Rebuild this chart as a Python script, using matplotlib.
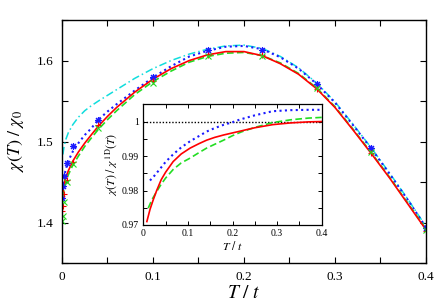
import matplotlib
matplotlib.use("Agg")
import matplotlib.pyplot as plt
from matplotlib.ticker import MultipleLocator, FuncFormatter

plt.rcParams['font.family'] = ['Liberation Serif', 'DejaVu Serif']
plt.rcParams['mathtext.fontset'] = 'stix'

# ---------------- main panel data ----------------
T_main = [0.001, 0.002, 0.004, 0.007, 0.012, 0.018, 0.025, 0.032, 0.04, 0.05, 0.06, 0.08,
          0.1, 0.12, 0.14, 0.16, 0.18, 0.2, 0.22, 0.24, 0.26, 0.28, 0.3, 0.32, 0.34,
          0.36, 0.38, 0.4]
red_main = [1.438, 1.445, 1.455, 1.464, 1.476, 1.487, 1.498, 1.508, 1.519, 1.531, 1.542, 1.561,
            1.577, 1.590, 1.600, 1.607, 1.611, 1.611, 1.606, 1.596, 1.583, 1.565, 1.542, 1.514,
            1.485, 1.455, 1.423, 1.391]
green_main = [1.432, 1.440, 1.450, 1.459, 1.471, 1.482, 1.494, 1.504, 1.515, 1.527, 1.538, 1.558,
              1.574, 1.587, 1.598, 1.605, 1.609, 1.610, 1.606, 1.597, 1.584, 1.566, 1.543, 1.515,
              1.486, 1.456, 1.424, 1.392]
blue_main = [1.448, 1.455, 1.465, 1.476, 1.488, 1.498, 1.508, 1.516, 1.527, 1.537, 1.546, 1.563,
             1.579, 1.593, 1.605, 1.612, 1.617, 1.618, 1.614, 1.604, 1.590, 1.571, 1.548, 1.520,
             1.491, 1.460, 1.428, 1.394]
cyan_main = [1.484, 1.492, 1.502, 1.511, 1.521, 1.530, 1.538, 1.544, 1.550, 1.557, 1.564, 1.578,
             1.590, 1.600, 1.608, 1.614, 1.618, 1.619, 1.615, 1.605, 1.591, 1.572, 1.549, 1.521,
             1.492, 1.461, 1.429, 1.395]

# data points (symbols)
T_pts = [0.0005, 0.001, 0.002, 0.005, 0.0125, 0.04, 0.1, 0.16, 0.22, 0.28, 0.34, 0.4]
blue_pts = [1.430, 1.445, 1.458, 1.474, 1.494, 1.527, 1.580, 1.613, 1.613, 1.571, 1.492, 1.393]
red_pts = [1.414, 1.420, 1.435, 1.452, 1.475, 1.520, 1.575, 1.607, 1.607, 1.565, 1.486, 1.390]
green_pts = [1.402, 1.408, 1.425, 1.450, 1.472, 1.517, 1.572, 1.605, 1.606, 1.566, 1.487, 1.391]

# ---------------- inset data ----------------
T_in_red = [0.008, 0.015, 0.022, 0.03, 0.04, 0.05, 0.067, 0.085, 0.105, 0.125, 0.142, 0.16,
            0.18, 0.2, 0.22, 0.25, 0.29, 0.33, 0.37, 0.4]
red_in = [0.9710, 0.9745, 0.9772, 0.9800, 0.9831, 0.9853, 0.9884, 0.9906, 0.9923, 0.9936,
          0.9946, 0.9954, 0.9961, 0.9967, 0.9973, 0.9982, 0.9991, 0.9996, 0.9999, 1.0000]
T_in_green = [0.011, 0.02, 0.03, 0.04, 0.05, 0.067, 0.085, 0.105, 0.125, 0.142, 0.16, 0.18,
              0.2, 0.22, 0.25, 0.29, 0.33, 0.37, 0.4]
green_in = [0.9749, 0.9775, 0.9797, 0.9818, 0.9836, 0.9861, 0.9880, 0.9894, 0.9910, 0.9923,
            0.9934, 0.9946, 0.9959, 0.9970, 0.9983, 0.9997, 1.0005, 1.0010, 1.0012]
T_in_blue = [0.015, 0.025, 0.037, 0.05, 0.067, 0.085, 0.105, 0.125, 0.142, 0.16, 0.179, 0.2,
             0.217, 0.25, 0.29, 0.33, 0.37, 0.4]
blue_in = [0.9829, 0.9843, 0.9862, 0.9883, 0.9905, 0.9925, 0.9943, 0.9958, 0.9971, 0.9981,
           0.9990, 0.9998, 1.0006, 1.0018, 1.0030, 1.0033, 1.0034, 1.0034]
ref_line = [1.0, 1.0]
ref_T = [0.0, 0.4]

RED = '#ff0000'
GREEN = '#22dd22'
BLUE = '#1a1aff'
CYAN = '#11dddd'

fig = plt.figure(figsize=(4.36, 3.05), dpi=100)
ax = fig.add_axes([0.1422, 0.1377, 0.977 - 0.1422, 0.9344 - 0.1377])

ax.plot(T_main, cyan_main, color=CYAN, lw=1.1, ls=(0, (5, 2, 1, 2)))
ax.plot(T_main, blue_main, color=BLUE, lw=1.5, ls=(0, (1, 1.6)))
ax.plot(T_main, green_main, color=GREEN, lw=1.2, ls=(0, (4, 2)))
ax.plot(T_main, red_main, color=RED, lw=1.2, ls='-')
ax.plot(T_pts, blue_pts, ls='none', marker=(8, 2, 0), ms=5, mew=0.8, color=BLUE)
ax.plot(T_pts, red_pts, ls='none', marker='+', ms=5, mew=0.8, color=RED)
ax.plot(T_pts, green_pts, ls='none', marker='x', ms=4, mew=0.8, color=GREEN)

ax.set_xlim(0, 0.4)
ax.set_ylim(1.35, 1.65)
ax.xaxis.set_major_locator(MultipleLocator(0.05))
ax.yaxis.set_major_locator(MultipleLocator(0.05))


def fmt_main_x(v, pos):
    k = round(v / 0.05)
    if k % 2:
        return ''
    return '0' if k == 0 else f'{v:.1f}'


def fmt_main_y(v, pos):
    k = round(v / 0.05)
    if k % 2:
        return ''
    return f'{v:.1f}'


ax.xaxis.set_major_formatter(FuncFormatter(fmt_main_x))
ax.yaxis.set_major_formatter(FuncFormatter(fmt_main_y))
ax.tick_params(direction='in', top=True, right=True, length=4, width=0.8,
               labelsize=9.5, pad=6)
for s in ax.spines.values():
    s.set_linewidth(1.0)
ax.set_xlabel(r'$T\ /\ t$', fontsize=14, labelpad=1)
ax.set_ylabel(r'$\chi(T)\ /\ \chi_0$', fontsize=13, labelpad=8)

# ---------------- inset ----------------
ins = fig.add_axes([143.3 / 436, 1 - 225 / 305, (321.7 - 143.3) / 436, (225 - 104.3) / 305])
ins.plot(ref_T, ref_line, color='black', lw=1.0, ls=(0, (1, 1.3)))
ins.plot(T_in_blue, blue_in, color=BLUE, lw=1.5, ls=(0, (1, 1.6)))
ins.plot(T_in_green, green_in, color=GREEN, lw=1.2, ls=(0, (4, 2)))
ins.plot(T_in_red, red_in, color=RED, lw=1.2, ls='-')
ins.set_xlim(0, 0.4)
ins.set_ylim(0.97, 1.005)
ins.xaxis.set_major_locator(MultipleLocator(0.05))
ins.yaxis.set_major_locator(MultipleLocator(0.005))


def fmt_in_y(v, pos):
    k = round(v / 0.005)
    if k % 2:
        return ''
    if abs(v - 1.0) < 1e-9:
        return '1'
    return f'{v:.2f}'


ins.xaxis.set_major_formatter(FuncFormatter(fmt_main_x))
ins.yaxis.set_major_formatter(FuncFormatter(fmt_in_y))
ins.tick_params(direction='in', top=True, right=True, length=3, width=0.7,
                labelsize=7, pad=3)
for s in ins.spines.values():
    s.set_linewidth(0.9)
ins.set_xlabel(r'$T\ /\ t$', fontsize=8.5, labelpad=1)
ins.set_ylabel(r'$\chi(T)\ /\ \chi^{\,\mathrm{1D}}(T)$', fontsize=8.5, labelpad=2)

fig.savefig('out.png', dpi=100)
